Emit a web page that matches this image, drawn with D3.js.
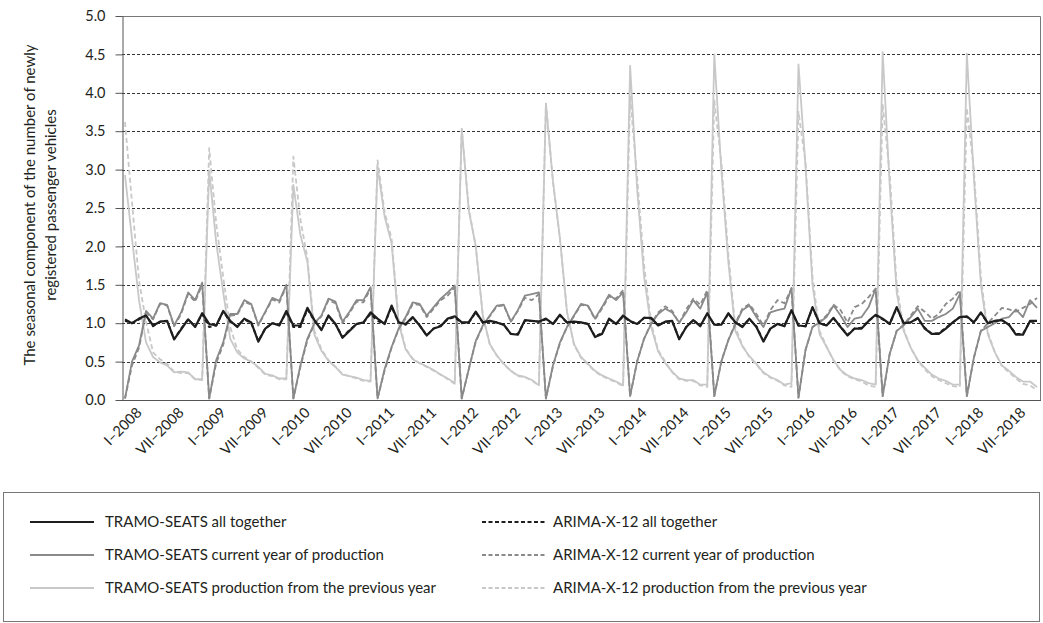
<!DOCTYPE html>
<html>
<head>
<meta charset="utf-8">
<script src="https://cdn.jsdelivr.net/npm/d3@7"></script>
<style>
  body { margin: 0; background: #fff; }
  text { font-family: Lato, "Open Sans", sans-serif; fill: #231f20; }
</style>
</head>
<body>
<div id="chart"></div>
<script>
// months run from I-2008 to XI-2018
var startYear = 2008
var monthNames = ["I", "II", "III", "IV", "V", "VI", "VII", "VIII", "IX", "X", "XI", "XII"]
var labelStep = 6
var yTicks = [0, 0.5, 1, 1.5, 2, 2.5, 3, 3.5, 4, 4.5, 5]
var yTitle = ["The seasonal component of the number of newly", "registered passenger vehicles"]

var tramoAll = [
  1.05, 1.00, 1.06, 1.10, 0.97, 1.02, 1.03, 0.79, 0.92, 1.05, 0.95, 1.13,
  0.99, 0.97, 1.16, 1.03, 0.95, 1.06, 1.01, 0.76, 0.93, 1.00, 0.97, 1.16,
  0.97, 0.97, 1.20, 1.04, 0.91, 1.10, 0.99, 0.81, 0.90, 0.99, 1.01, 1.14,
  1.06, 0.99, 1.23, 1.01, 0.99, 1.08, 0.97, 0.84, 0.93, 0.96, 1.06, 1.09,
  1.01, 1.01, 1.15, 1.01, 1.03, 1.01, 0.98, 0.86, 0.85, 1.04, 1.03, 1.02,
  1.06, 0.99, 1.11, 1.01, 1.02, 1.01, 0.99, 0.82, 0.86, 1.06, 0.99, 1.10,
  1.03, 0.99, 1.07, 1.07, 0.97, 1.02, 1.03, 0.79, 0.95, 1.04, 0.96, 1.13,
  0.98, 0.98, 1.13, 1.01, 0.95, 1.06, 0.95, 0.76, 0.93, 0.99, 0.96, 1.17,
  0.97, 0.96, 1.21, 1.00, 0.97, 1.07, 0.95, 0.84, 0.93, 0.93, 1.03, 1.11,
  1.06, 0.99, 1.21, 1.00, 1.01, 1.07, 0.93, 0.86, 0.86, 0.93, 1.01, 1.08,
  1.09, 1.01, 1.14, 1.00, 1.03, 1.04, 0.98, 0.85, 0.85, 1.03, 1.03
]

var arimaAll = [
  1.03, 1.00, 1.05, 1.10, 0.96, 1.02, 1.03, 0.79, 0.93, 1.05, 0.96, 1.12,
  0.95, 0.97, 1.15, 1.02, 0.96, 1.05, 1.00, 0.77, 0.93, 1.00, 0.98, 1.14,
  0.95, 0.95, 1.18, 1.03, 0.92, 1.09, 0.99, 0.82, 0.91, 0.99, 1.01, 1.12,
  1.03, 0.99, 1.21, 1.01, 0.98, 1.07, 0.97, 0.84, 0.93, 0.97, 1.05, 1.08,
  1.00, 1.01, 1.14, 1.01, 1.02, 1.01, 0.98, 0.86, 0.86, 1.03, 1.03, 1.02,
  1.05, 0.99, 1.10, 1.01, 1.02, 1.01, 0.99, 0.83, 0.87, 1.05, 0.99, 1.09,
  1.02, 0.99, 1.07, 1.06, 0.97, 1.02, 1.02, 0.80, 0.95, 1.04, 0.97, 1.12,
  0.98, 0.98, 1.12, 1.01, 0.96, 1.05, 0.96, 0.77, 0.93, 0.99, 0.97, 1.16,
  0.97, 0.96, 1.20, 1.00, 0.97, 1.06, 0.95, 0.85, 0.93, 0.94, 1.03, 1.10,
  1.05, 0.99, 1.20, 1.00, 1.01, 1.06, 0.94, 0.86, 0.87, 0.94, 1.01, 1.08,
  1.08, 1.01, 1.13, 1.00, 1.03, 1.04, 0.98, 0.86, 0.86, 1.02, 1.02
]

var tramoCurrent = [
  0.02, 0.50, 0.71, 1.16, 1.06, 1.26, 1.24, 0.97, 1.14, 1.40, 1.30, 1.53,
  0.02, 0.52, 0.75, 1.12, 1.12, 1.30, 1.25, 0.98, 1.15, 1.33, 1.29, 1.50,
  0.02, 0.45, 0.80, 1.00, 1.10, 1.32, 1.28, 1.02, 1.15, 1.30, 1.30, 1.47,
  0.02, 0.40, 0.69, 0.93, 1.08, 1.27, 1.25, 1.10, 1.21, 1.32, 1.40, 1.49,
  0.02, 0.40, 0.77, 0.97, 1.10, 1.23, 1.24, 1.02, 1.17, 1.36, 1.38, 1.40,
  0.02, 0.45, 0.75, 0.95, 1.10, 1.25, 1.23, 1.06, 1.21, 1.37, 1.30, 1.40,
  0.05, 0.50, 0.80, 0.99, 1.12, 1.19, 1.14, 1.01, 1.14, 1.30, 1.19, 1.40,
  0.05, 0.50, 0.78, 0.98, 1.17, 1.23, 1.08, 0.95, 1.14, 1.17, 1.19, 1.46,
  0.03, 0.65, 0.95, 1.01, 1.08, 1.23, 1.10, 0.95, 1.06, 1.08, 1.21, 1.45,
  0.05, 0.60, 0.90, 0.97, 1.08, 1.19, 1.03, 1.03, 1.08, 1.12, 1.19, 1.38,
  0.05, 0.55, 0.90, 0.95, 1.00, 1.06, 1.08, 1.18, 1.08, 1.30, 1.20
]

var arimaCurrent = [
  0.02, 0.45, 0.68, 1.14, 1.05, 1.25, 1.23, 0.96, 1.12, 1.38, 1.28, 1.50,
  0.02, 0.48, 0.72, 1.10, 1.11, 1.28, 1.24, 0.97, 1.14, 1.31, 1.27, 1.48,
  0.02, 0.43, 0.78, 0.99, 1.09, 1.30, 1.26, 1.00, 1.13, 1.28, 1.27, 1.45,
  0.02, 0.38, 0.68, 0.92, 1.06, 1.25, 1.24, 1.08, 1.19, 1.30, 1.36, 1.47,
  0.02, 0.40, 0.76, 0.96, 1.09, 1.22, 1.23, 1.02, 1.16, 1.33, 1.30, 1.38,
  0.02, 0.44, 0.74, 0.95, 1.09, 1.24, 1.22, 1.05, 1.19, 1.35, 1.32, 1.43,
  0.05, 0.50, 0.80, 1.00, 1.14, 1.22, 1.16, 1.00, 1.18, 1.32, 1.24, 1.43,
  0.05, 0.50, 0.78, 1.00, 1.19, 1.25, 1.12, 0.97, 1.17, 1.30, 1.26, 1.45,
  0.03, 0.65, 0.95, 1.02, 1.10, 1.24, 1.17, 1.01, 1.21, 1.25, 1.34, 1.45,
  0.05, 0.60, 0.90, 0.98, 1.10, 1.22, 1.15, 1.06, 1.12, 1.25, 1.32, 1.43,
  0.05, 0.55, 0.90, 1.00, 1.10, 1.20, 1.18, 1.15, 1.20, 1.25, 1.33
]

var tramoPrevious = [
  2.93, 2.10, 1.30, 0.75, 0.56, 0.49, 0.45, 0.36, 0.37, 0.36, 0.27, 0.27,
  2.99, 2.05, 1.40, 0.80, 0.62, 0.54, 0.50, 0.43, 0.34, 0.32, 0.28, 0.28,
  2.80, 2.15, 1.80, 0.85, 0.64, 0.51, 0.43, 0.33, 0.31, 0.29, 0.26, 0.25,
  3.04, 2.39, 2.04, 1.00, 0.66, 0.53, 0.48, 0.44, 0.39, 0.33, 0.28, 0.22,
  3.53, 2.47, 2.00, 1.10, 0.73, 0.58, 0.47, 0.38, 0.32, 0.30, 0.26, 0.19,
  3.86, 2.85, 2.10, 1.15, 0.73, 0.56, 0.47, 0.38, 0.32, 0.28, 0.24, 0.19,
  4.35, 2.75, 1.60, 0.95, 0.63, 0.48, 0.37, 0.28, 0.26, 0.26, 0.20, 0.20,
  4.50, 3.00, 1.80, 0.90, 0.70, 0.57, 0.47, 0.36, 0.30, 0.26, 0.20, 0.22,
  4.37, 3.05, 1.50, 0.86, 0.69, 0.52, 0.39, 0.32, 0.28, 0.26, 0.22, 0.20,
  4.53, 2.80, 1.40, 0.90, 0.68, 0.52, 0.42, 0.33, 0.28, 0.25, 0.20, 0.20,
  4.51, 2.90, 1.50, 0.85, 0.62, 0.45, 0.38, 0.30, 0.24, 0.24, 0.17
]

var arimaPrevious = [
  3.62, 2.57, 1.55, 1.02, 0.62, 0.53, 0.47, 0.37, 0.35, 0.35, 0.27, 0.26,
  3.28, 2.30, 1.60, 0.95, 0.66, 0.56, 0.50, 0.42, 0.33, 0.31, 0.27, 0.27,
  3.17, 2.35, 1.85, 0.90, 0.66, 0.52, 0.43, 0.34, 0.31, 0.28, 0.25, 0.24,
  3.12, 2.45, 2.10, 1.05, 0.67, 0.54, 0.48, 0.43, 0.38, 0.33, 0.27, 0.21,
  3.53, 2.50, 2.00, 1.10, 0.72, 0.58, 0.46, 0.38, 0.31, 0.30, 0.25, 0.19,
  3.86, 2.85, 2.10, 1.15, 0.72, 0.55, 0.46, 0.37, 0.31, 0.27, 0.23, 0.18,
  3.95, 2.90, 1.75, 1.00, 0.65, 0.50, 0.36, 0.27, 0.25, 0.25, 0.19, 0.17,
  3.90, 3.10, 1.90, 0.95, 0.71, 0.56, 0.46, 0.35, 0.29, 0.25, 0.19, 0.17,
  3.75, 3.10, 1.60, 0.90, 0.70, 0.51, 0.38, 0.31, 0.27, 0.24, 0.19, 0.17,
  3.85, 2.95, 1.50, 0.92, 0.68, 0.51, 0.40, 0.31, 0.26, 0.22, 0.18, 0.17,
  3.80, 3.00, 1.60, 0.88, 0.62, 0.44, 0.36, 0.28, 0.21, 0.19, 0.13
]

// drawing order: light lines at the back, black on top
var series = [
  {label: "TRAMO-SEATS production from the previous year", values: tramoPrevious, color: "#c8c8c8", dash: null, w: 1.8, col: 0, row: 2},
  {label: "ARIMA-X-12 production from the previous year", values: arimaPrevious, color: "#c8c8c8", dash: "5,3", w: 1.8, col: 1, row: 2},
  {label: "TRAMO-SEATS current year of production", values: tramoCurrent, color: "#8a8a8a", dash: null, w: 1.8, col: 0, row: 1},
  {label: "ARIMA-X-12 current year of production", values: arimaCurrent, color: "#8a8a8a", dash: "5,3", w: 1.8, col: 1, row: 1},
  {label: "TRAMO-SEATS all together", values: tramoAll, color: "#1e1e1e", dash: null, w: 2.2, col: 0, row: 0},
  {label: "ARIMA-X-12 all together", values: arimaAll, color: "#1e1e1e", dash: "4,3", w: 2, col: 1, row: 0}
]

var W = 1043, H = 623
var plot = {left: 122, right: 1040, top: 16, bottom: 400}
var n = tramoAll.length

var x = d3.scaleLinear().domain([0, n - 1]).range([125, 1037])
var y = d3.scaleLinear().domain([0, 5]).range([plot.bottom, plot.top])

var svg = d3.select("#chart")
    .append("svg")
    .attr("width", W)
    .attr("height", H)

// grid lines
svg.append("g")
    .selectAll("line")
    .data(yTicks.filter(function(d) { return d > 0 && d < 5 }))
    .enter().append("line")
    .attr("x1", plot.left)
    .attr("x2", plot.right)
    .attr("y1", function(d) { return Math.round(y(d)) + 0.5 })
    .attr("y2", function(d) { return Math.round(y(d)) + 0.5 })
    .style("stroke", "#333")
    .style("stroke-width", 1)
    .style("stroke-dasharray", "3,2")

// frame (top and right)
svg.append("path")
    .attr("d", "M" + plot.left + "," + (plot.top + 0.5) + "H" + (plot.right + 0.5) + "V" + plot.bottom)
    .style("fill", "none")
    .style("stroke", "#777")
    .style("stroke-width", 1)

// series
var line = d3.line()
    .x(function(d, i) { return x(i) })
    .y(function(d) { return y(d) })

svg.append("g")
    .selectAll("path")
    .data(series)
    .enter().append("path")
    .attr("d", function(s) { return line(s.values) })
    .style("fill", "none")
    .style("stroke", function(s) { return s.color })
    .style("stroke-width", function(s) { return s.w })
    .style("stroke-dasharray", function(s) { return s.dash })
    .style("stroke-linejoin", "round")

// y axis
var yAxis = svg.append("g")
    .attr("transform", "translate(" + (plot.left + 0.5) + ",0)")
    .call(d3.axisLeft(y).tickValues(yTicks).tickFormat(d3.format(".1f")).tickSize(7).tickSizeOuter(0).tickPadding(10))
yAxis.select(".domain").style("stroke", "#555")
yAxis.selectAll(".tick line").style("stroke", "#555")
yAxis.selectAll("text").style("font-size", "14.5px").style("fill", "#231f20").style("font-family", "Lato, sans-serif")

// x axis line
svg.append("line")
    .attr("x1", plot.left)
    .attr("x2", plot.right + 1)
    .attr("y1", plot.bottom + 0.5)
    .attr("y2", plot.bottom + 0.5)
    .style("stroke", "#555")

// x labels, each in its own group rotated by 45 degrees
var labelIdx = d3.range(0, n, labelStep)
var xLabels = svg.append("g")
    .selectAll("g")
    .data(labelIdx)
    .enter().append("g")
    .attr("transform", function(i) { return "translate(" + (x(i) + 14) + ",410) rotate(-45)" })

xLabels.append("text")
    .attr("dy", "0.35em")
    .attr("text-anchor", "end")
    .style("font-size", "14.5px")
    .text(function(i) { return monthNames[i % 12] + "\u2013" + (startYear + Math.floor(i / 12)) })

// y title
svg.append("g")
    .selectAll("text")
    .data(yTitle)
    .enter().append("text")
    .attr("transform", function(d, k) { return "translate(" + (35 + k * 21) + ",205) rotate(-90)" })
    .attr("text-anchor", "middle")
    .style("font-size", "15px")
    .text(function(d) { return d })

// legend
var legend = svg.append("g")
legend.append("rect")
    .attr("x", 3.5)
    .attr("y", 492.5)
    .attr("width", 1036)
    .attr("height", 129)
    .style("fill", "none")
    .style("stroke", "#777")

var colX = [30, 482]
var rowY = [522, 555, 588]
var item = legend.selectAll(".item")
    .data(series)
    .enter().append("g")
    .attr("class", "item")
    .attr("transform", function(s) { return "translate(" + colX[s.col] + "," + rowY[s.row] + ")" })

item.append("line")
    .attr("x1", 0)
    .attr("x2", function(s) { return s.col == 0 ? 64 : 63 })
    .style("stroke", function(s) { return s.color })
    .style("stroke-width", function(s) { return s.w })
    .style("stroke-dasharray", function(s) { return s.dash ? "4,2.5" : null })

item.append("text")
    .attr("x", function(s) { return s.col == 0 ? 75 : 71 })
    .attr("dy", "0.35em")
    .style("font-size", "15px")
    .text(function(s) { return s.label })
</script>
</body>
</html>
